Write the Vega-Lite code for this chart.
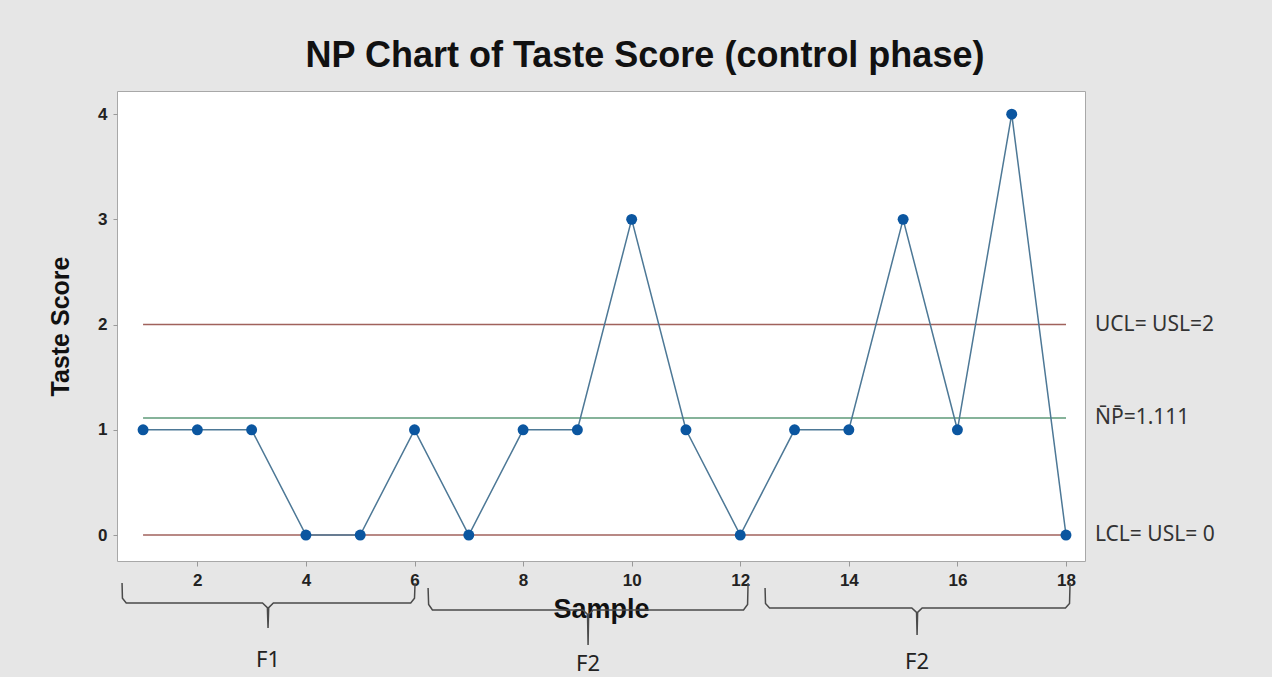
{
  "$schema": "https://vega.github.io/schema/vega-lite/v6.json",
  "width": 968,
  "height": 470,
  "autosize": {"type": "none"},
  "padding": {"left": 117, "top": 91, "right": 187, "bottom": 116},
  "background": "#e6e6e6",
  "config": {
    "view": {"fill": "white", "stroke": "#a8a8a8", "strokeWidth": 1},
    "font": "Liberation Sans"
  },
  "title": {
    "text": "NP Chart of Taste Score (control phase)",
    "font": "Liberation Sans",
    "fontSize": 36,
    "fontWeight": "bold",
    "color": "#111111",
    "anchor": "middle",
    "dx": 44,
    "dy": 42,
    "offset": 22,
    "baseline": "bottom"
  },
  "datasets": {
    "points": [
      {"x": 1, "y": 1}, {"x": 2, "y": 1}, {"x": 3, "y": 1}, {"x": 4, "y": 0},
      {"x": 5, "y": 0}, {"x": 6, "y": 1}, {"x": 7, "y": 0}, {"x": 8, "y": 1},
      {"x": 9, "y": 1}, {"x": 10, "y": 3}, {"x": 11, "y": 1}, {"x": 12, "y": 0},
      {"x": 13, "y": 1}, {"x": 14, "y": 1}, {"x": 15, "y": 3}, {"x": 16, "y": 1},
      {"x": 17, "y": 4}, {"x": 18, "y": 0}
    ],
    "limits": [
      {"name": "UCL", "y": 2, "x": 1, "x2": 18, "label": "UCL= USL=2"},
      {"name": "NP", "y": 1.111, "x": 1, "x2": 18, "label": "N̄P̄=1.111"},
      {"name": "LCL", "y": 0, "x": 1, "x2": 18, "label": "LCL= USL= 0"}
    ],
    "braces": [
      {"group": "F1", "order": 1, "x": 0.613, "y": -0.456},
      {"group": "F1", "order": 2, "x": 0.62, "y": -0.6},
      {"group": "F1", "order": 3, "x": 0.69, "y": -0.646},
      {"group": "F1", "order": 4, "x": 3.2, "y": -0.646},
      {"group": "F1", "order": 5, "x": 3.29, "y": -0.69},
      {"group": "F1", "order": 6, "x": 3.302, "y": -0.884},
      {"group": "F1", "order": 7, "x": 3.314, "y": -0.69},
      {"group": "F1", "order": 8, "x": 3.4, "y": -0.646},
      {"group": "F1", "order": 9, "x": 5.93, "y": -0.646},
      {"group": "F1", "order": 10, "x": 6.0, "y": -0.6},
      {"group": "F1", "order": 11, "x": 6.01, "y": -0.456},
      {"group": "F2a", "order": 1, "x": 6.25, "y": -0.504},
      {"group": "F2a", "order": 2, "x": 6.26, "y": -0.66},
      {"group": "F2a", "order": 3, "x": 6.33, "y": -0.713},
      {"group": "F2a", "order": 4, "x": 9.1, "y": -0.713},
      {"group": "F2a", "order": 5, "x": 9.187, "y": -0.755},
      {"group": "F2a", "order": 6, "x": 9.197, "y": -1.045},
      {"group": "F2a", "order": 7, "x": 9.207, "y": -0.755},
      {"group": "F2a", "order": 8, "x": 9.29, "y": -0.713},
      {"group": "F2a", "order": 9, "x": 12.06, "y": -0.713},
      {"group": "F2a", "order": 10, "x": 12.135, "y": -0.66},
      {"group": "F2a", "order": 11, "x": 12.144, "y": -0.456},
      {"group": "F2b", "order": 1, "x": 12.457, "y": -0.504},
      {"group": "F2b", "order": 2, "x": 12.465, "y": -0.65},
      {"group": "F2b", "order": 3, "x": 12.54, "y": -0.694},
      {"group": "F2b", "order": 4, "x": 15.16, "y": -0.694},
      {"group": "F2b", "order": 5, "x": 15.247, "y": -0.735},
      {"group": "F2b", "order": 6, "x": 15.257, "y": -0.95},
      {"group": "F2b", "order": 7, "x": 15.267, "y": -0.735},
      {"group": "F2b", "order": 8, "x": 15.35, "y": -0.694},
      {"group": "F2b", "order": 9, "x": 17.99, "y": -0.694},
      {"group": "F2b", "order": 10, "x": 18.065, "y": -0.65},
      {"group": "F2b", "order": 11, "x": 18.075, "y": -0.456}
    ],
    "groups": [
      {"label": "F1", "x": 3.302, "y": -1.188},
      {"label": "F2", "x": 9.197, "y": -1.226},
      {"label": "F2", "x": 15.257, "y": -1.207}
    ]
  },
  "encoding": {
    "x": {
      "field": "x",
      "type": "quantitative",
      "scale": {"domain": [0.52, 18.35], "nice": false, "zero": false},
      "axis": {
        "title": "Sample",
        "values": [2, 4, 6, 8, 10, 12, 14, 16, 18],
        "grid": false,
        "domain": false,
        "tickColor": "#999999",
        "tickSize": 5,
        "labelFont": "Liberation Sans",
        "labelFontSize": 17,
        "labelFontWeight": "bold",
        "labelColor": "#222222",
        "labelPadding": 6,
        "titleFont": "Liberation Sans",
        "titleFontSize": 27,
        "titleFontWeight": "bold",
        "titleColor": "#111111",
        "titlePadding": 8
      }
    },
    "y": {
      "field": "y",
      "type": "quantitative",
      "scale": {"domain": [-0.247, 4.22], "nice": false, "zero": false},
      "axis": {
        "title": "Taste Score",
        "values": [0, 1, 2, 3, 4],
        "grid": false,
        "domain": false,
        "tickColor": "#999999",
        "tickSize": 4,
        "labelFont": "Liberation Sans",
        "labelFontSize": 17,
        "labelFontWeight": "bold",
        "labelColor": "#222222",
        "labelPadding": 6,
        "titleFont": "Liberation Sans",
        "titleFontSize": 25,
        "titleFontWeight": "bold",
        "titleColor": "#111111",
        "titlePadding": 24
      }
    }
  },
  "layer": [
    {
      "data": {"name": "limits"},
      "mark": {"type": "rule", "strokeWidth": 1.5},
      "encoding": {
        "x2": {"field": "x2"},
        "color": {
          "field": "name",
          "type": "nominal",
          "scale": {"domain": ["UCL", "NP", "LCL"], "range": ["#a0625c", "#5e9a78", "#a0625c"]},
          "legend": null
        }
      }
    },
    {
      "data": {"name": "limits"},
      "mark": {"type": "text", "align": "left", "baseline": "middle", "dx": 29, "font": "Noto Sans", "fontSize": 21, "color": "#333333"},
      "encoding": {
        "x": {"field": "x2", "type": "quantitative", "title": "Sample"},
        "text": {"field": "label"}
      }
    },
    {
      "data": {"name": "points"},
      "mark": {"type": "line", "color": "#4d7896", "strokeWidth": 1.5}
    },
    {
      "data": {"name": "points"},
      "mark": {"type": "point", "filled": true, "color": "#0b56a0", "size": 120, "opacity": 1}
    },
    {
      "data": {"name": "braces"},
      "mark": {"type": "line", "color": "#4a4a4a", "strokeWidth": 1.5},
      "encoding": {
        "detail": {"field": "group"},
        "order": {"field": "order", "type": "quantitative"}
      }
    },
    {
      "data": {"name": "groups"},
      "mark": {"type": "text", "align": "center", "baseline": "middle", "font": "Noto Sans", "fontSize": 22, "color": "#222222"},
      "encoding": {
        "text": {"field": "label"}
      }
    }
  ]
}
